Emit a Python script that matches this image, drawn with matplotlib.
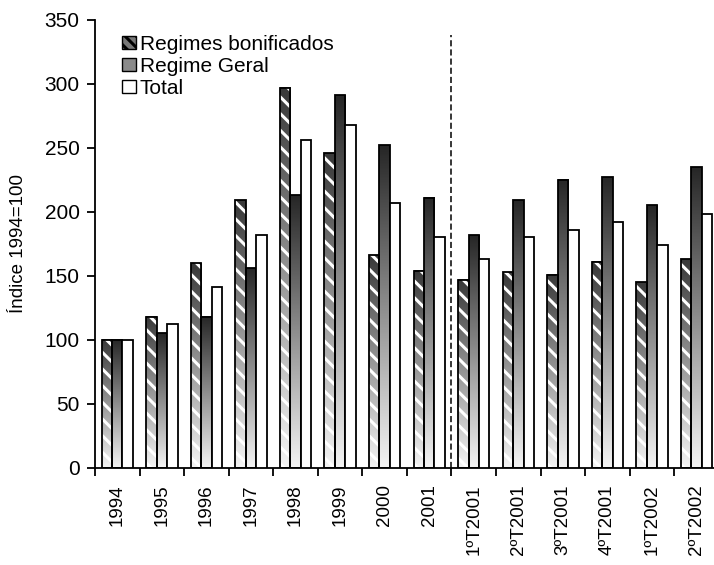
import numpy as np
import matplotlib
matplotlib.use("Agg")
import matplotlib.pyplot as plt
from matplotlib.colors import LinearSegmentedColormap
from matplotlib.patches import Patch

plt.rcParams['font.family'] = ['Liberation Sans', 'DejaVu Sans']
plt.rcParams['hatch.linewidth'] = 2.2

categories = ['1994', '1995', '1996', '1997', '1998', '1999', '2000', '2001',
              '1ºT2001', '2ºT2001', '3ºT2001', '4ºT2001', '1ºT2002', '2ºT2002']
bonificados = [100, 118, 160, 209, 297, 246, 166, 154, 147, 153, 151, 161, 145, 163]
geral = [100, 105, 118, 156, 213, 291, 252, 211, 182, 209, 225, 227, 205, 235]
total = [100, 112, 141, 182, 256, 268, 207, 180, 163, 180, 186, 192, 174, 198]

fig = plt.figure(figsize=(7.14, 5.65), dpi=100)
ax = fig.add_axes([0.133, 0.172, 0.867, 0.793])

grad_cmap = LinearSegmentedColormap.from_list('g', ['#262626', '#f4f4f4'])
grad = np.linspace(0, 1, 256).reshape(-1, 1)

x = np.arange(len(categories))
w = 0.235

for i in range(len(categories)):
    # Regimes bonificados: gradient + white hatch
    x0 = x[i] - 1.5 * w
    ax.imshow(grad, extent=(x0, x0 + w, 0, bonificados[i]), aspect='auto',
              cmap=grad_cmap, vmin=-0.1, vmax=1.0, zorder=1)
    ax.bar(x0, bonificados[i], w, align='edge', facecolor='none',
           edgecolor='white', hatch='\\\\', linewidth=0, zorder=2)
    ax.bar(x0, bonificados[i], w, align='edge', facecolor='none',
           edgecolor='black', linewidth=1.3, zorder=3)
    # Regime Geral: gradient
    x1 = x[i] - 0.5 * w
    ax.imshow(grad, extent=(x1, x1 + w, 0, geral[i]), aspect='auto',
              cmap=grad_cmap, vmin=0, vmax=1, zorder=1)
    ax.bar(x1, geral[i], w, align='edge', facecolor='none',
           edgecolor='black', linewidth=1.3, zorder=3)
    # Total: white
    x2 = x[i] + 0.5 * w
    ax.bar(x2, total[i], w, align='edge', facecolor='white',
           edgecolor='black', linewidth=1.3, zorder=3)

ax.vlines(7.5, 0, 338, colors='black', linestyles=(0, (4, 2)), linewidth=1.1, zorder=4)

ax.set_xlim(-0.5, 13.39)
ax.set_ylim(0, 350)
ax.set_yticks(range(0, 351, 50))
ax.set_xticks(x)
ax.set_xticklabels(categories, rotation=90, fontsize=13.5)
ax.set_xticks(np.arange(-0.5, 13.5, 1), minor=True)
ax.tick_params(axis='x', which='major', length=0, pad=12)
ax.tick_params(axis='x', which='minor', length=6, width=1.3, direction='out')
ax.tick_params(axis='y', length=6, width=1.3, labelsize=15, pad=5)
for s in ['top', 'right']:
    ax.spines[s].set_visible(False)
for s in ['left', 'bottom']:
    ax.spines[s].set_linewidth(1.3)

ax.set_ylabel('Índice 1994=100', fontsize=13.5, labelpad=13)

handles = [Patch(facecolor='#777777', edgecolor='black', hatch='\\\\\\', label='Regimes bonificados'),
           Patch(facecolor='#8a8a8a', edgecolor='black', label='Regime Geral'),
           Patch(facecolor='white', edgecolor='black', label='Total')]
ax.legend(handles=handles, loc='upper left', bbox_to_anchor=(0.03, 0.985), frameon=False,
          fontsize=15, handlelength=0.7, handleheight=0.6, handletextpad=0.15,
          labelspacing=0.15, borderaxespad=0)

fig.savefig('out.png', dpi=100)
